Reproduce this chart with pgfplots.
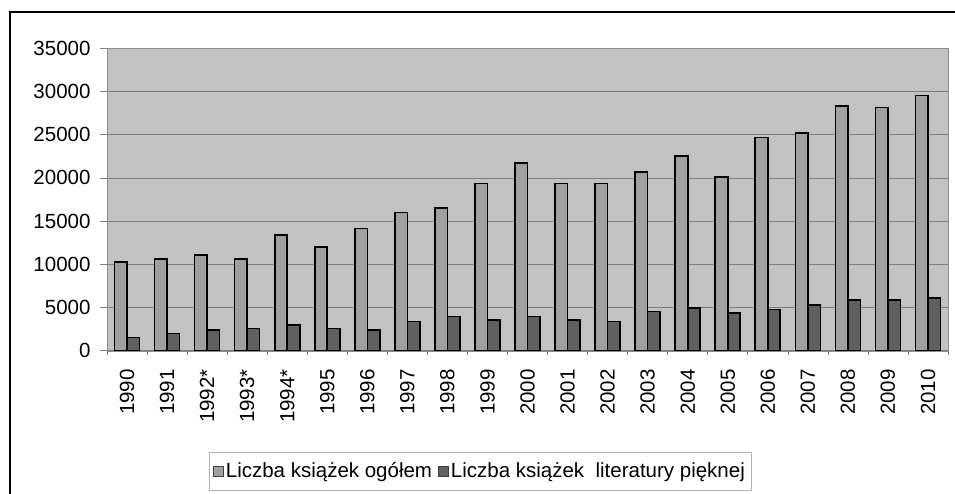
\documentclass[border=0pt]{standalone}
\usepackage{pgfplots}
\pgfplotsset{compat=1.18}
\usepackage{fontspec}
\setmainfont{Liberation Sans}
\definecolor{bgplot}{RGB}{194,194,194}
\definecolor{barA}{RGB}{160,160,160}
\definecolor{barB}{RGB}{96,96,96}
\definecolor{gridc}{RGB}{125,125,125}
\begin{document}
\begin{tikzpicture}
\useasboundingbox (0,0) rectangle (955pt,493pt);
\draw[line width=2pt] (10pt,-10pt) -- (10pt,480.5pt) -- (970pt,480.5pt);
\begin{axis}[
  at={(107pt,142.3pt)}, anchor=south west,
  scale only axis, width=841pt, height=302.4pt,
  ybar=0pt, bar width=12.5pt,
  xmin=-0.5, xmax=20.5, ymin=0, ymax=35000,
  axis background/.style={fill=bgplot},
  axis line style={draw=gray!90},
  ytick={0,5000,...,35000},
  ymajorgrids, grid style={gridc, line width=0.8pt},
  xtick={0,...,20},
  xticklabels={1990,1991,1992*,1993*,1994*,1995,1996,1997,1998,1999,2000,2001,2002,2003,2004,2005,2006,2007,2008,2009,2010},
  minor xtick={-0.5,0.5,...,20.5},
  major x tick style={draw=none},
  minor tick length=4pt, major tick length=7pt,
  tick align=outside, tick style={gray, line width=0.6pt},
  xtick pos=bottom, ytick pos=left,
  x tick label style={rotate=90, anchor=east, font=\fontsize{20.5}{24}\selectfont, xshift=-8pt},
  y tick label style={font=\fontsize{20.5}{24}\selectfont, xshift=-6pt},
  /pgf/number format/assume math mode=true,
  /pgf/number format/1000 sep={},
  scaled y ticks=false,
  legend columns=2,
  legend style={at={(0.4435,-0.398)}, anchor=center, draw=gray!60, fill=white,
    font=\fontsize{20.5}{24}\selectfont, inner xsep=4pt, inner ysep=6pt,
    /tikz/every even column/.append style={column sep=4pt},
    nodes={inner xsep=2pt, inner ysep=5pt}},
]
\addplot[fill=barA, draw=black, line width=1.6pt,
  legend image code/.code={\draw[fill=barA, draw=black!75, line width=0.8pt] (0pt,-5pt) rectangle (10pt,5pt);}]
  coordinates {(0,10240) (1,10640) (2,11100) (3,10640) (4,13420) (5,12030) (6,14150) (7,16010) (8,16550) (9,19340) (10,21690) (11,19340) (12,19340) (13,20690) (14,22510) (15,20100) (16,24670) (17,25210) (18,28340) (19,28150) (20,29550)};
\addplot[fill=barB, draw=black, line width=1.6pt,
  legend image code/.code={\draw[fill=barB, draw=black!75, line width=0.8pt] (0pt,-5pt) rectangle (10pt,5pt);}]
  coordinates {(0,1550) (1,2010) (2,2400) (3,2590) (4,2980) (5,2590) (6,2400) (7,3360) (8,3980) (9,3560) (10,3980) (11,3560) (12,3360) (13,4520) (14,4910) (15,4330) (16,4760) (17,5300) (18,5880) (19,5880) (20,6070)};
\legend{Liczba książek ogółem, Liczba książek\ \ literatury pięknej}
\end{axis}
\end{tikzpicture}
\end{document}
